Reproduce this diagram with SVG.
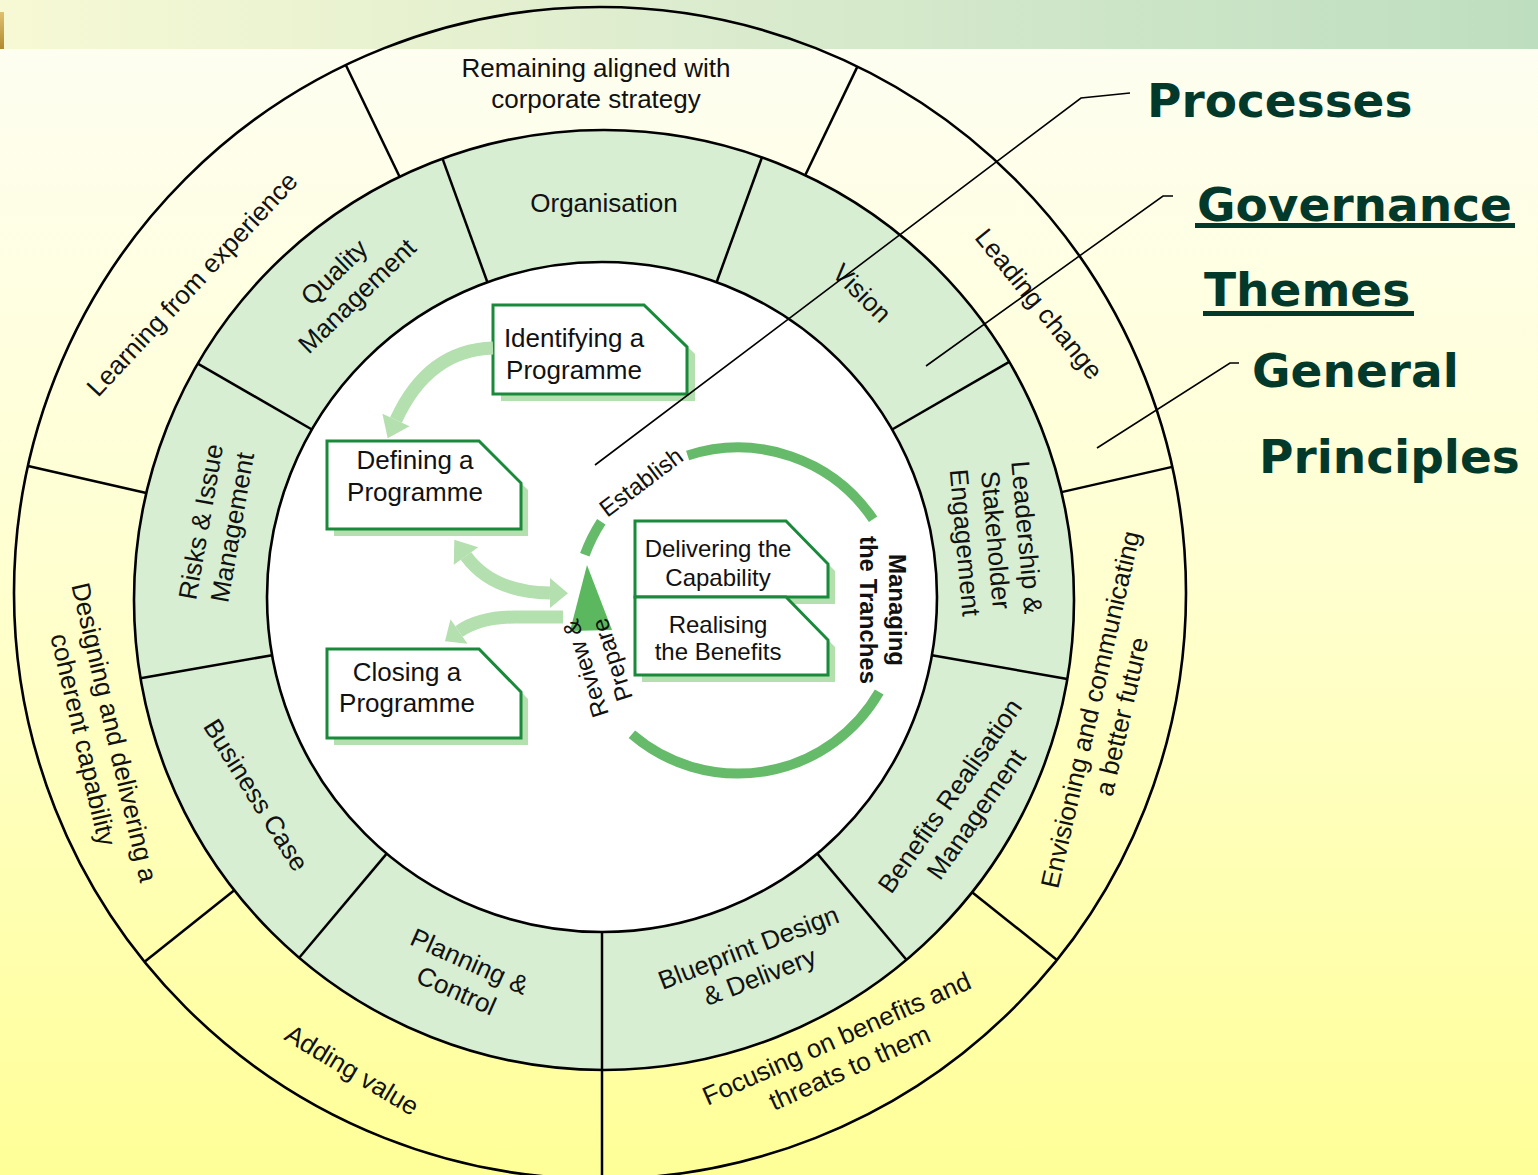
<svg xmlns="http://www.w3.org/2000/svg" width="1538" height="1175" viewBox="0 0 1538 1175">
<defs>
<linearGradient id="bg" x1="0" y1="0" x2="0" y2="1"><stop offset="0" stop-color="#fefef4"/><stop offset="0.5" stop-color="#ffffcf"/><stop offset="1" stop-color="#ffff98"/></linearGradient>
<linearGradient id="band" x1="0" y1="0" x2="1" y2="0"><stop offset="0" stop-color="#f7f9d4"/><stop offset="0.45" stop-color="#dcecce"/><stop offset="1" stop-color="#bedec0"/></linearGradient>
<linearGradient id="gold" x1="0" y1="0" x2="0" y2="1"><stop offset="0" stop-color="#e0c070"/><stop offset="1" stop-color="#b08a30"/></linearGradient>
</defs>
<style>
.t{font-family:"Liberation Sans",Arial,Helvetica,sans-serif;font-size:26px;fill:#111;text-anchor:middle}
.s{font-size:24px}
.r{font-size:24px}
.b{font-weight:bold}
.h{font-family:"DejaVu Sans",Verdana,sans-serif;font-weight:bold;font-size:47px;fill:#03392b}
.ring{stroke:#000;stroke-width:2.6}
.dv{stroke:#000;stroke-width:2.5;fill:none}
.box{fill:#fff;stroke:#188a3a;stroke-width:3}
.sh{fill:#b4dfaf}
.arw{fill:none;stroke:#b4dfaf;stroke-width:13}
.ah{fill:#b4dfaf}
.cyc{fill:none;stroke:#66bb6a;stroke-width:10}
.lead{fill:none;stroke:#000;stroke-width:1.6}
.ul{fill:#03392b}
</style>
<rect x="0" y="0" width="1538" height="1175" fill="url(#bg)"/>
<rect x="0" y="0" width="1538" height="49" fill="url(#band)"/>
<rect x="0" y="12" width="4" height="37" fill="url(#gold)"/>

<g id="rings">
<circle class="ring" cx="600" cy="593" r="586" fill="none"/>
<circle class="ring" cx="604" cy="600" r="470" fill="#d7eed3"/>
<circle class="ring" cx="602" cy="597" r="335" fill="#ffffff"/>
<g id="dividers">
<line class="dv" x1="487.4" y1="282.2" x2="442.5" y2="158.6"/>
<line class="dv" x1="716.6" y1="282.2" x2="762" y2="157.3"/>
<line class="dv" x1="892.1" y1="429.5" x2="1009.2" y2="361.9"/>
<line class="dv" x1="931.9" y1="655.2" x2="1067.3" y2="679"/>
<line class="dv" x1="817.3" y1="853.6" x2="906.4" y2="959.8"/>
<line class="dv" x1="602" y1="932" x2="602" y2="1176"/>
<line class="dv" x1="386.7" y1="853.6" x2="299.2" y2="957.8"/>
<line class="dv" x1="272.1" y1="655.2" x2="140.5" y2="678.3"/>
<line class="dv" x1="311.9" y1="429.5" x2="197.8" y2="363.6"/>
<line class="dv" x1="234.3" y1="890.2" x2="144.6" y2="961.8"/>
<line class="dv" x1="146.3" y1="493" x2="28" y2="466"/>
<line class="dv" x1="399.6" y1="176.8" x2="345.8" y2="65"/>
<line class="dv" x1="805.2" y1="175.2" x2="857.4" y2="66.6"/>
<line class="dv" x1="1061.5" y1="492.1" x2="1172.2" y2="466.9"/>
<line class="dv" x1="972.1" y1="892.2" x2="1057" y2="959.9"/>
</g>
</g>

<g id="principles">
<g id="p-remaining"><text class="t" x="596" y="77">Remaining aligned with</text><text class="t" x="596" y="108">corporate strategy</text></g>
<g id="p-learning"><text class="t" transform="translate(192,284) rotate(-47)" y="9">Learning from experience</text></g>
<g id="p-leading"><text class="t" transform="translate(1039,304) rotate(51)" y="9">Leading change</text></g>
<g id="p-envisioning"><text class="t" transform="translate(1106,713) rotate(-77)"><tspan x="0" y="-7">Envisioning and communicating</tspan><tspan x="0" y="25">a better future</tspan></text></g>
<g id="p-focusing"><text class="t" transform="translate(843,1053) rotate(-24)"><tspan x="0" y="-7">Focusing on benefits and</tspan><tspan x="0" y="25">threats to them</tspan></text></g>
<g id="p-adding"><text class="t" transform="translate(352,1070) rotate(31)" y="9">Adding value</text></g>
<g id="p-designing"><text class="t" transform="translate(99,736) rotate(77)"><tspan x="0" y="-7">Designing and delivering a</tspan><tspan x="0" y="25">coherent capability</tspan></text></g>
</g>

<g id="themes">
<g id="th-organisation"><text class="t" x="604" y="212">Organisation</text></g>
<g id="th-vision"><text class="t" transform="translate(862,293) rotate(45)" y="9">Vision</text></g>
<g id="th-leadership"><text class="t" transform="translate(996,540) rotate(85)"><tspan x="0" y="-22">Leadership &amp;</tspan><tspan x="0" y="9">Stakeholder</tspan><tspan x="0" y="40">Engagement</tspan></text></g>
<g id="th-benefits"><text class="t" transform="translate(963,805) rotate(-55)"><tspan x="0" y="-7">Benefits Realisation</tspan><tspan x="0" y="25">Management</tspan></text></g>
<g id="th-blueprint"><text class="t" transform="translate(754,962) rotate(-21)"><tspan x="0" y="-6.5">Blueprint Design</tspan><tspan x="0" y="24.5">&amp; Delivery</tspan></text></g>
<g id="th-planning"><text class="t" transform="translate(463,976) rotate(24)"><tspan x="0" y="-7">Planning &amp;</tspan><tspan x="0" y="25">Control</tspan></text></g>
<g id="th-business"><text class="t" transform="translate(256,795) rotate(58)" y="9">Business Case</text></g>
<g id="th-risks"><text class="t" transform="translate(216.5,524.5) rotate(-80)"><tspan x="0" y="-7">Risks &amp; Issue</tspan><tspan x="0" y="25">Management</tspan></text></g>
<g id="th-quality"><text class="t" transform="translate(345.5,284) rotate(-44)"><tspan x="0" y="-7.5">Quality</tspan><tspan x="0" y="25.5">Management</tspan></text></g>
</g>

<g id="cycle">
<path class="cyc" d="M687.6,455.5 A163,163 0 0 1 873.1,519.3"/>
<path class="cyc" d="M879.2,692 A163,163 0 0 1 631.9,734.3"/>
<path class="cyc" d="M584.8,554.8 A163,163 0 0 1 601.3,521.7"/>
<text class="t s" transform="translate(641,482) rotate(-37)" y="8.5">Establish</text>
<text class="t s b" transform="translate(882,610) rotate(90)"><tspan x="0" y="-6.5">Managing</tspan><tspan x="0" y="22.5">the Tranches</tspan></text>
</g>

<g id="review">
<polygon points="587,565 570,631 612,630" fill="#5cb85f"/>
<text class="t r" transform="translate(599,664) rotate(-108)"><tspan x="0" y="-6">Review &amp;</tspan><tspan x="0" y="22">Prepare</tspan></text>
</g>

<g id="identifying">
<polygon class="sh" points="501,312 652,312 695,354 695,401 501,401"/>
<polygon class="box" points="493,305 644,305 687,347 687,394 493,394"/>
<text class="t"><tspan x="574" y="347">Identifying a</tspan><tspan x="574" y="379">Programme</tspan></text>
</g>
<g id="defining">
<polygon class="sh" points="334,448 486,448 528,490 528,536 334,536"/>
<polygon class="box" points="327,441 479,441 521,483 521,529 327,529"/>
<text class="t"><tspan x="415" y="469">Defining a</tspan><tspan x="415" y="501">Programme</tspan></text>
</g>
<g id="closing">
<polygon class="sh" points="334,656 486,656 528,699 528,745 334,745"/>
<polygon class="box" points="327,649 479,649 521,692 521,738 327,738"/>
<text class="t"><tspan x="407" y="681">Closing a</tspan><tspan x="407" y="712">Programme</tspan></text>
</g>
<g id="delivering-realising">
<polygon class="sh" points="642,528 793,528 835,571 835,604 642,604"/>
<polygon class="sh" points="642,604 793,604 835,647 835,682 642,682"/>
<polygon class="box" points="635,521 786,521 828,564 828,597 635,597"/>
<polygon class="box" points="635,597 786,597 828,640 828,675 635,675"/>
<text class="t s"><tspan x="718" y="557">Delivering the</tspan><tspan x="718" y="586">Capability</tspan></text>
<text class="t s"><tspan x="718" y="633">Realising</tspan><tspan x="718" y="660">the Benefits</tspan></text>
</g>

<g id="headings">
<text class="h" x="1147" y="117">Processes</text>
<text class="h" x="1197" y="221">Governance</text>
<rect class="ul" x="1195" y="223" width="320" height="5"/>
<text class="h" x="1204" y="306">Themes</text>
<rect class="ul" x="1203" y="311" width="211" height="5"/>
<text class="h" x="1252" y="387">General</text>
<text class="h" x="1259" y="473">Principles</text>
</g>

<g id="connectors">
<path class="arw" d="M493,348 Q428,350 396,420"/>
<polygon class="ah" points="387.7,438.2 409.6,426.2 382.4,413.8"/>
<path class="arw" d="M466,556 Q492,592 550,593"/>
<polygon class="ah" points="454.3,539.8 478.2,547.2 453.8,564.8"/>
<polygon class="ah" points="568,593.3 550,578 550,608"/>
<path class="arw" d="M563,617 L515,617 Q480,617 459,631.5"/>
<polygon class="ah" points="445,641.2 467.5,643.8 450.5,619.2"/>
<polyline class="lead" points="1130,93 1081,98 595,465"/>
<polyline class="lead" points="1173,196 1163,196 926,366"/>
<polyline class="lead" points="1239,363 1230,363 1097,448"/>
</g>
</svg>
